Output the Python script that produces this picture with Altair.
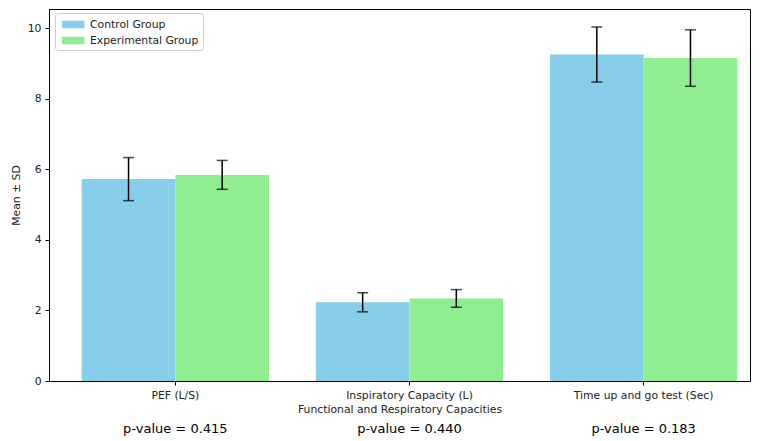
import altair as alt
import pandas as pd

categories = ["PEF (L/S)", "Inspiratory Capacity (L)", "Time up and go test (Sec)"]
groups = ["Control Group", "Experimental Group"]
control_mean = [5.72, 2.23, 9.25]
control_sd = [0.61, 0.27, 0.78]
exp_mean = [5.84, 2.34, 9.15]
exp_sd = [0.41, 0.25, 0.80]
p_values = ["p-value = 0.415", "p-value = 0.440", "p-value = 0.183"]
colors = ["#87CEEB", "#90EE90"]

rows = []
for i, c in enumerate(categories):
    rows.append({"cat": c, "group": groups[0], "mean": control_mean[i], "sd": control_sd[i]})
    rows.append({"cat": c, "group": groups[1], "mean": exp_mean[i], "sd": exp_sd[i]})
df = pd.DataFrame(rows)
pdf = pd.DataFrame({"cat": categories, "p": p_values})

FONT = "DejaVu Sans"
FS = 10.8

x_enc = alt.X("cat:N", sort=categories,
              scale=alt.Scale(paddingInner=0.2, paddingOuter=0.097, align=0.72),
              axis=alt.Axis(title="Functional and Respiratory Capacities", labelAngle=0,
                            labelFontSize=FS, titleFontSize=FS, labelPadding=4,
                            titlePadding=4, tickSize=4, labelColor="#222", titleColor="#222",
                            titleFontWeight="normal"))
xo = alt.XOffset("group:N", sort=groups)
y_scale = alt.Scale(domain=[0, 10.54], nice=False)

base = alt.Chart(df)

bars = base.mark_bar().encode(
    x=x_enc,
    xOffset=xo,
    y=alt.Y("mean:Q", scale=y_scale,
            axis=alt.Axis(title="Mean ± SD", values=[0, 2, 4, 6, 8, 10], grid=False,
                          labelFontSize=FS, titleFontSize=FS, tickSize=4, labelPadding=4,
                          titlePadding=6, labelColor="#222", titleColor="#222",
                          titleFontWeight="normal")),
    color=alt.Color("group:N", sort=groups,
                    scale=alt.Scale(domain=groups, range=colors),
                    legend=alt.Legend(title=None, orient="none", legendX=6, legendY=4,
                                      symbolType="M-0.6,-0.5H2.4V0.5H-0.6Z", symbolSize=225,
                                      symbolStrokeWidth=0, symbolOpacity=1,
                                      labelFontSize=FS, labelColor="#222",
                                      labelOffset=16, padding=4, rowPadding=3,
                                      fillColor="white", strokeColor="#cccccc",
                                      cornerRadius=3, labelFont=FONT)),
)

err = base.transform_calculate(
    lo="datum.mean - datum.sd", hi="datum.mean + datum.sd"
)

rules = err.mark_rule(color="black", strokeWidth=1.5).encode(
    x=alt.X("cat:N", sort=categories), xOffset=xo,
    y=alt.Y("lo:Q", scale=y_scale), y2="hi:Q",
)
cap_lo = err.mark_tick(color="black", thickness=1.5, size=11, orient="horizontal").encode(
    x=alt.X("cat:N", sort=categories), xOffset=xo, y=alt.Y("lo:Q", scale=y_scale),
)
cap_hi = err.mark_tick(color="black", thickness=1.5, size=11, orient="horizontal").encode(
    x=alt.X("cat:N", sort=categories), xOffset=xo, y=alt.Y("hi:Q", scale=y_scale),
)

ptext = alt.Chart(pdf).mark_text(fontSize=13, color="black", baseline="alphabetic", font=FONT).encode(
    x=alt.X("cat:N", sort=categories),
    y=alt.value(424),
    text="p:N",
)

chart = alt.layer(bars, rules, cap_lo, cap_hi, ptext).properties(
    width=701, height=372,
    autosize=alt.AutoSizeParams(type="none"),
    padding={"left": 41, "top": 1, "right": 2, "bottom": 55},
).configure_view(
    stroke="black", strokeWidth=1
).configure_axis(
    domainColor="black", tickColor="black", labelFont=FONT, titleFont=FONT
).configure_legend(
    labelFont=FONT
)

chart.save("out.html", embed_options={"renderer": "svg", "actions": False})
